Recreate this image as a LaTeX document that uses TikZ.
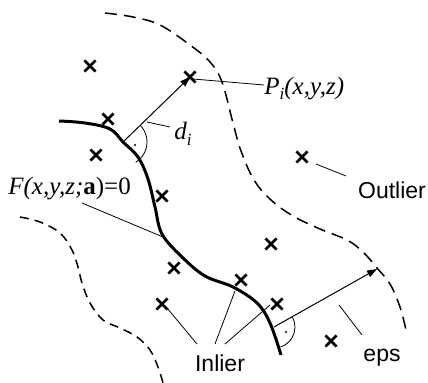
\documentclass[tikz,border=0pt]{standalone}
\usepackage{fontspec}
\setmainfont{Liberation Serif}
\setsansfont{Liberation Sans}
\usetikzlibrary{shapes.misc,arrows.meta}
\begin{document}
\begin{tikzpicture}[x=0.5pt,y=-0.5pt,
  pt/.style={cross out,draw,line width=1.35pt,minimum size=4.2pt,inner sep=0pt},
  fitline/.style={line width=1.5pt},
  bound/.style={line width=0.75pt,dash pattern=on 6pt off 3.5pt},
  bound2/.style={line width=0.75pt,dash pattern=on 4.5pt off 3pt},
  lead/.style={line width=0.4pt},
  vec/.style={line width=0.5pt,-{Triangle[length=5pt,width=3.5pt]}},
  rang/.style={line width=0.4pt},
  lab/.style={font=\fontsize{12.5}{14}\selectfont, inner sep=0pt},
  slab/.style={font=\fontsize{11.5}{13}\selectfont\sffamily, inner sep=0pt}
]
\useasboundingbox (0,0) rectangle (428,383);

% fitted surface
\draw[fitline] plot[smooth,tension=0.6] coordinates {(59,121) (85,123) (110,129) (123,142) (138,157) (148,179) (155,207) (162,234) (182,257) (205,276) (233,287) (257,303) (270,323) (281,355)};
% outer bound
\draw[bound] plot[smooth,tension=0.6] coordinates {(105,13) (133,17) (160,25) (190,45) (210,62) (222,82) (233,123) (241,151) (254,180) (271,200) (293,216) (320,229) (347,240) (363,252) (377,268) (390,284) (400,307) (406,330)};
% inner bound
\draw[bound2] plot[smooth,tension=0.6] coordinates {(20,217) (40,222) (60,233) (72,250) (78,267) (82,283) (90,303) (103,320) (120,328) (137,337) (150,350) (158,367) (163,383)};

% points
\node[pt] (c1) at (90,66) {};
\node[pt] (c2) at (190,77) {};
\node[pt] (c3) at (108,119) {};
\node[pt] (c4) at (96,155) {};
\node[pt] (c5) at (162,196) {};
\node[pt] (c6) at (302,157) {};
\node[pt] (c7) at (174,268) {};
\node[pt] (c8) at (271,244) {};
\node[pt] (c9) at (241,280) {};
\node[pt] (c10) at (162,304) {};
\node[pt] (c11) at (277,304) {};
\node[pt] (c12) at (331,341) {};

% feet and ends
\coordinate (f1) at (123,142);
\coordinate (f2) at (274,327);
\coordinate (e2) at (377,269);
\coordinate (onF) at (163,237);

% distance vectors
\draw[vec] (f1) -- (c2.center);
\draw[vec] (f2) -- (e2);

% right angle marks
\draw[rang] (f1) ++(-44:24) arc[start angle=-44, end angle=58, radius=24];
\fill (135,145) circle[radius=1.1];
\draw[rang] (f2) ++(-29:21) arc[start angle=-29, end angle=72, radius=21];
\fill (286,332) circle[radius=1.1];

% labels
\node[lab,anchor=west] (pl) at (264,89) {\itshape P\raisebox{-0.4ex}{\fontsize{8.5}{9}\selectfont i}(x,y,z)};
\node[lab] (dl) at (183,134) {\itshape d\raisebox{-0.5ex}{\fontsize{8.5}{9}\selectfont i}};
\node[lab,anchor=west] (fl) at (8,189) {\itshape F(x,y,z;\upshape\bfseries a\mdseries)=0};
\node[slab] (ol) at (392,190) {Outlier};
\node[slab] (il) at (220,363) {Inlier};
\node[slab] (el) at (382,358) {eps};

% leaders
\coordinate (pl1) at (193,79);
\coordinate (pl2) at (264,85);
\draw[lead] (pl1) -- (pl2);
\coordinate (dl1) at (147,122);
\coordinate (dl2) at (170,127);
\draw[lead] (dl1) -- (dl2);
\coordinate (fl1) at (82,203);
\draw[lead] (fl1) -- (onF);
\coordinate (ol1) at (316,164);
\coordinate (ol2) at (346,176);
\draw[lead] (ol1) -- (ol2);
\coordinate (il1) at (167,308);
\coordinate (il2) at (197,344);
\coordinate (il3) at (235,291);
\coordinate (il4) at (215,344);
\coordinate (il5) at (270,305);
\coordinate (il6) at (225,344);
\draw[lead] (il1) -- (il2);
\draw[lead] (il3) -- (il4);
\draw[lead] (il5) -- (il6);
\coordinate (el1) at (339,305);
\coordinate (el2) at (362,335);
\draw[lead] (el1) -- (el2);
\end{tikzpicture}
\end{document}
